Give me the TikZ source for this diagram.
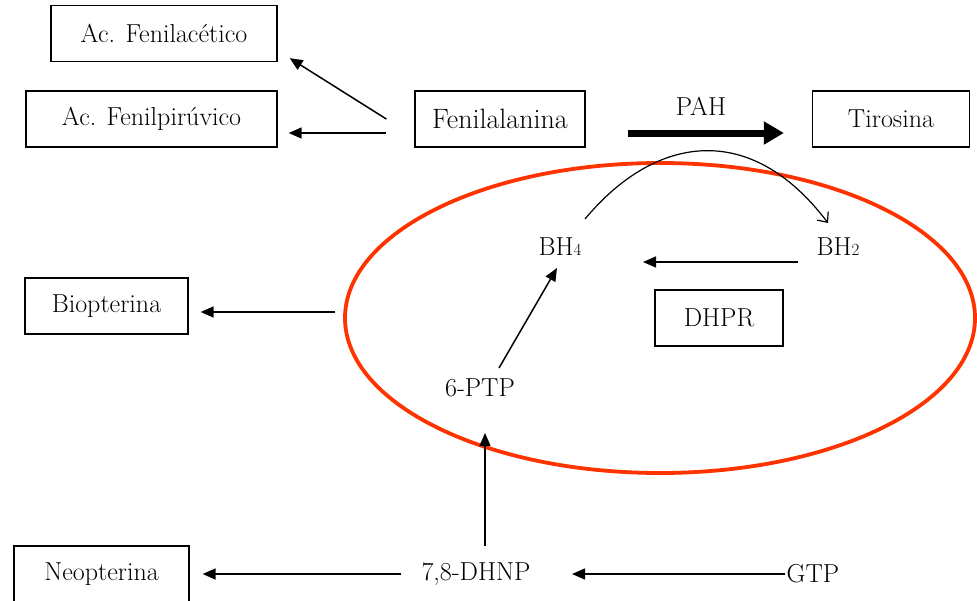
\documentclass[tikz,border=0pt]{standalone}
\usepackage{fontspec}
\usepackage{tikz}
\usetikzlibrary{arrows.meta,shapes.geometric}
\definecolor{cyclered}{RGB}{255,51,0}
\newcommand{\sub}[1]{{\fontsize{17}{17}\selectfont #1}}

\begin{document}
\begin{tikzpicture}[x=1pt, y=-1pt,
    box/.style={draw, line width=1.3pt, minimum height=56pt, inner sep=0pt,
                font=\fontsize{26}{30}\selectfont},
    lbl/.style={inner sep=0pt, font=\fontsize{26}{30}\selectfont},
    arr/.style={line width=1.5pt, -{Triangle[length=13pt,width=11pt]}}]
    \useasboundingbox (0,0) rectangle (977,600);

    % Cycle
    \node[draw=cyclered, line width=3.8pt, ellipse, minimum width=630pt,
          minimum height=310pt, inner sep=0pt] (cyc) at (660,318) {};

    % Boxes
    \node[box, minimum width=226pt] (acet) at (164,33.5) {Ac. Fenilac\'etico};
    \node[box, minimum width=251pt] (pir) at (151.5,119) {Ac. Fenilpir\'uvico};
    \node[box, minimum width=170pt, font=\fontsize{28}{32}\selectfont] (fen) at (500,119) {Fenilalanina};
    \node[box, minimum width=157pt] (tir) at (891,119) {Tirosina};
    \node[box, minimum width=128pt] (dhpr) at (719,318) {DHPR};
    \node[box, minimum width=163pt] (bio) at (106.5,306) {Biopterina};
    \node[box, minimum width=175pt] (neo) at (101.5,574) {Neopterina};

    % Plain labels
    \node[lbl] (pah) at (701,106) {PAH};
    \node[lbl] (bh4) at (560,247) {BH\sub{4}};
    \node[lbl] (bh2) at (838,247) {BH\sub{2}};
    \node[lbl] (ptp) at (480,388) {6-PTP};
    \node[lbl] (dhnp) at (476,574) {7,8-DHNP};
    \node[lbl] (gtp) at (813,574) {GTP};

    % Side products
    \draw[arr] ([shift={(-28,0)}]fen.west) -- ([shift={(12,-4)}]acet.south east);
    \draw[arr] ([shift={(-28,14)}]fen.west) -- ([shift={(11,14)}]pir.east);
    \draw[arr] ([shift={(-8,-6)}]cyc.west) -- ([shift={(12,6)}]bio.east);

    % PAH step
    \draw[line width=7pt, -{Triangle[length=20pt,width=22pt]}]
        ([shift={(42,14)}]fen.east) -- ([shift={(-28,14)}]tir.west);

    % Cofactor
    \draw[line width=1.2pt, -{Straight Barb[length=8pt,width=14pt]}]
        ([shift={(25,-28)}]bh4.center) .. controls (655,135) and (750,120) .. ([shift={(-10,-24)}]bh2.center);
    \draw[arr] ([shift={(-40,15)}]bh2.center) -- ([shift={(83,15)}]bh4.center);
    \draw[arr] ([shift={(19,-20)}]ptp.center) -- ([shift={(-3,21)}]bh4.center);

    % Synthesis from GTP
    \draw[arr] ([shift={(9,-28)}]dhnp.center) -- ([shift={(5,45)}]ptp.center);
    \draw[arr] ([shift={(-75,0)}]dhnp.center) -- ([shift={(13,0)}]neo.east);
    \draw[arr] ([shift={(-28,0)}]gtp.center) -- ([shift={(96,0)}]dhnp.center);
\end{tikzpicture}
\end{document}
